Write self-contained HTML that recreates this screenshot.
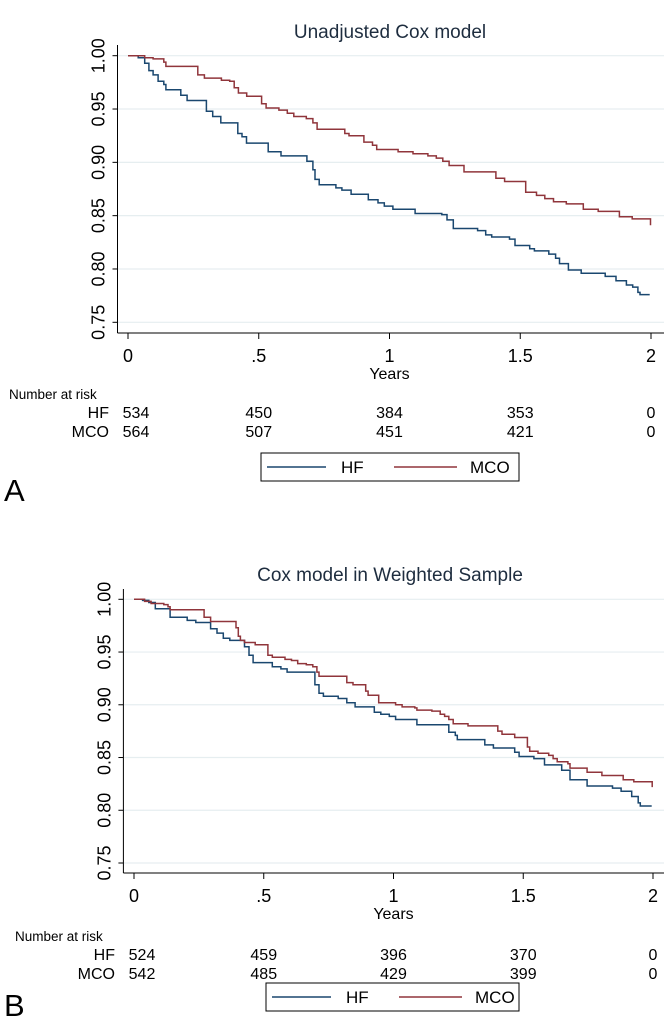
<!DOCTYPE html>
<html><head><meta charset="utf-8">
<style>
html,body{margin:0;padding:0;background:#fff;}
svg{display:block;font-family:"Liberation Sans",Arial,sans-serif;}
</style></head>
<body>
<svg id="fig" width="664" height="1022" viewBox="0 0 664 1022"></svg>
<script>
// ---- Data: panel A (Unadjusted Cox model) ----
const xTicks = [0, 0.5, 1, 1.5, 2];
const xTickLabels = ["0", ".5", "1", "1.5", "2"];
const yTicks = [0.75, 0.80, 0.85, 0.90, 0.95, 1.00];
const yTickLabels = ["0.75", "0.80", "0.85", "0.90", "0.95", "1.00"];
const groups = ["HF", "MCO"];

const aHfT = [0,0.039,0.064,0.080,0.096,0.115,0.137,0.145,0.202,0.226,0.300,0.324,0.355,0.420,0.436,0.453,0.536,0.585,0.684,0.707,0.715,0.731,0.795,0.818,0.853,0.919,0.956,0.980,1.013,1.098,1.200,1.220,1.244,1.337,1.368,1.391,1.459,1.480,1.536,1.554,1.609,1.635,1.650,1.684,1.733,1.825,1.866,1.906,1.930,1.950,1.958,1.995];
const aHfS = [1.000,0.998,0.993,0.986,0.982,0.976,0.973,0.968,0.963,0.958,0.948,0.943,0.937,0.927,0.924,0.918,0.910,0.906,0.901,0.893,0.884,0.879,0.876,0.874,0.870,0.865,0.862,0.859,0.856,0.852,0.851,0.846,0.838,0.836,0.832,0.830,0.828,0.822,0.819,0.817,0.814,0.810,0.805,0.799,0.796,0.793,0.789,0.785,0.783,0.778,0.776,0.776];
const aMcoT = [0,0.064,0.096,0.137,0.145,0.267,0.292,0.357,0.389,0.406,0.422,0.454,0.511,0.528,0.577,0.609,0.634,0.682,0.707,0.723,0.829,0.845,0.902,0.935,0.951,1.033,1.090,1.147,1.179,1.204,1.228,1.285,1.407,1.440,1.521,1.562,1.594,1.627,1.676,1.741,1.798,1.879,1.928,1.998];
const aMcoS = [1.000,0.998,0.997,0.994,0.990,0.982,0.979,0.977,0.976,0.970,0.965,0.962,0.955,0.951,0.949,0.946,0.943,0.941,0.937,0.931,0.927,0.925,0.919,0.916,0.912,0.910,0.908,0.906,0.904,0.901,0.897,0.891,0.885,0.882,0.872,0.869,0.866,0.863,0.861,0.856,0.854,0.849,0.847,0.841];
const aRiskHf = ["534","450","384","353","0"];
const aRiskMco = ["564","507","451","421","0"];

// ---- Data: panel B (Cox model in Weighted Sample) ----
const bHfT = [0,0.033,0.057,0.082,0.139,0.205,0.238,0.295,0.320,0.344,0.369,0.426,0.443,0.459,0.533,0.566,0.590,0.697,0.713,0.730,0.787,0.820,0.852,0.926,0.951,0.984,1.008,1.090,1.213,1.238,1.246,1.352,1.385,1.467,1.484,1.541,1.582,1.648,1.680,1.746,1.844,1.877,1.918,1.943,1.951,1.995];
const bHfS = [1.000,0.999,0.997,0.991,0.983,0.980,0.978,0.972,0.968,0.963,0.961,0.955,0.947,0.940,0.936,0.934,0.931,0.919,0.911,0.908,0.906,0.902,0.898,0.893,0.891,0.889,0.886,0.881,0.874,0.871,0.867,0.862,0.859,0.855,0.851,0.849,0.843,0.838,0.829,0.823,0.821,0.818,0.813,0.807,0.804,0.804];
const bMcoT = [0,0.041,0.066,0.115,0.131,0.139,0.270,0.295,0.393,0.402,0.410,0.426,0.467,0.516,0.533,0.582,0.607,0.631,0.664,0.689,0.705,0.713,0.820,0.844,0.893,0.902,0.943,1.008,1.033,1.082,1.090,1.148,1.180,1.197,1.213,1.230,1.287,1.402,1.418,1.467,1.516,1.525,1.557,1.598,1.615,1.631,1.672,1.680,1.746,1.803,1.885,1.926,1.997];
const bMcoS = [1.000,0.998,0.996,0.995,0.993,0.990,0.983,0.979,0.973,0.965,0.961,0.959,0.957,0.947,0.945,0.943,0.942,0.939,0.938,0.936,0.931,0.927,0.921,0.919,0.913,0.909,0.902,0.900,0.898,0.897,0.895,0.894,0.891,0.889,0.886,0.882,0.880,0.875,0.872,0.869,0.860,0.856,0.854,0.852,0.849,0.846,0.844,0.840,0.836,0.833,0.829,0.827,0.822];
const bRiskHf = ["524","459","396","370","0"];
const bRiskMco = ["542","485","429","399","0"];

const NS = "http://www.w3.org/2000/svg";
const svg = document.getElementById("fig");
const BLUE = "#1a476f", RED = "#90353b";
function mk(tag, attrs, parent, text){
  const e = document.createElementNS(NS, tag);
  for (const k in attrs) e.setAttribute(k, attrs[k]);
  if (text !== undefined) e.textContent = text;
  (parent || svg).appendChild(e);
  return e;
}
function stepPath(T, S, sx, sy){
  let d = "M" + sx(T[0]) + " " + sy(S[0]);
  for (let i = 1; i < T.length; i++){
    d += " H" + sx(T[i]).toFixed(1) + " V" + sy(S[i]).toFixed(1);
  }
  return d;
}

function panel(cfg){
  const g = mk("g", {});
  
  
  const sx = t => cfg.x0 + (t / 2) * (cfg.x2 - cfg.x0);
  const sy = v => cfg.y100 + (1 - v) / 0.25 * (cfg.y75 - cfg.y100);

  const title = mk("text", {x: 390, y: cfg.titleY, "text-anchor": "middle", "font-size": 19, fill: "#1e2d3f"}, g, cfg.title);
  
  

  for (let i = 0; i < yTicks.length; i++){
    const y = sy(yTicks[i]);
    const gl = mk("line", {x1: cfg.ax, x2: 664, y1: y, y2: y, stroke: "#e6eef0", "stroke-width": 1.2}, g);
    
    
    mk("line", {x1: cfg.ax - 5, x2: cfg.ax, y1: y, y2: y, stroke: "#000", "stroke-width": 1}, g);
    const tl = mk("text", {x: 0, y: 0, "text-anchor": "middle", "font-size": 18, fill: "#000",
      transform: "translate(" + (cfg.ax - 19) + "," + y + ") rotate(-90)", "dominant-baseline": "central"}, g, yTickLabels[i]);
    
    
  }
  const ya = mk("line", {x1: cfg.ax, x2: cfg.ax, y1: cfg.axTop, y2: cfg.axY, stroke: "#000", "stroke-width": 1}, g);
  
  
  const xa = mk("line", {x1: cfg.ax, x2: 664, y1: cfg.axY, y2: cfg.axY, stroke: "#000", "stroke-width": 1}, g);
  
  
  for (let i = 0; i < xTicks.length; i++){
    const x = sx(xTicks[i]);
    mk("line", {x1: x, x2: x, y1: cfg.axY, y2: cfg.axY + 6, stroke: "#000", "stroke-width": 1}, g);
    const xl = mk("text", {x: x, y: cfg.axY + 29, "text-anchor": "middle", "font-size": 18, fill: "#000"}, g, xTickLabels[i]);
    
    
  }
  const xt = mk("text", {x: sx(1), y: cfg.axY + 46, "text-anchor": "middle", "font-size": 16, fill: "#000"}, g, "Years");
  
  

  const p1 = mk("path", {d: stepPath(cfg.hfT, cfg.hfS, sx, sy), fill: "none", stroke: BLUE, "stroke-width": 1.5}, g);
  
  
  const p2 = mk("path", {d: stepPath(cfg.mcoT, cfg.mcoS, sx, sy), fill: "none", stroke: RED, "stroke-width": 1.5}, g);
  
  

  const nr = mk("text", {x: cfg.nrX, y: cfg.nrY, "font-size": 13.5, fill: "#000"}, g, "Number at risk");
  
  
  const rows = [cfg.riskHf, cfg.riskMco];
  for (let r = 0; r < 2; r++){
    const yy = cfg.nrY + 19 + r * 19;
    const gl = mk("text", {x: sx(0) - 19, y: yy, "text-anchor": "end", "font-size": 16, fill: "#000"}, g, groups[r]);
    
    
    for (let i = 0; i < xTicks.length; i++){
      const rv = mk("text", {x: sx(xTicks[i]) + (i === 0 ? 8 : 0), y: yy, "text-anchor": "middle", "font-size": 16, fill: "#000"}, g, rows[r][i]);
      
      
    }
  }
  const lg = mk("g", {}, g);
  
  
  mk("rect", {x: cfg.lgX, y: cfg.lgY, width: 519 - cfg.lgX, height: 28, fill: "#fff", stroke: "#000", "stroke-width": 1}, lg);
  const cy = cfg.lgY + 14;
  const l1 = mk("line", {x1: cfg.lgX + 6, x2: cfg.lgX + 65, y1: cy, y2: cy, stroke: BLUE, "stroke-width": 1.5}, lg);
  
  
  const t1 = mk("text", {x: cfg.lgX + 80, y: cy + 6, "font-size": 17, fill: "#000"}, lg, "HF");
  
  
  const l2 = mk("line", {x1: cfg.lgX + 133, x2: cfg.lgX + 196, y1: cy, y2: cy, stroke: RED, "stroke-width": 1.5}, lg);
  
  
  const t2 = mk("text", {x: cfg.lgX + 209, y: cy + 6, "font-size": 17, fill: "#000"}, lg, "MCO");
  
  

  const pl = mk("text", {x: 4, y: cfg.panelY, "font-size": 31, fill: "#000"}, g, cfg.panel);
  
  
}

panel({name: "panel-a", title: "Unadjusted Cox model", titleY: 38, ax: 117.5, axTop: 45, axY: 333,
  x0: 128, x2: 651, y100: 55.7, y75: 322.3,
  hfT: aHfT, hfS: aHfS, mcoT: aMcoT, mcoS: aMcoS, riskHf: aRiskHf, riskMco: aRiskMco,
  nrX: 9, nrY: 399, lgX: 261, lgY: 453, panel: "A", panelY: 501});
panel({name: "panel-b", title: "Cox model in Weighted Sample", titleY: 581, ax: 123.4, axTop: 589, axY: 873,
  x0: 134, x2: 653, y100: 599.3, y75: 863,
  hfT: bHfT, hfS: bHfS, mcoT: bMcoT, mcoS: bMcoS, riskHf: bRiskHf, riskMco: bRiskMco,
  nrX: 15, nrY: 941, lgX: 266, lgY: 983, panel: "B", panelY: 1016});
</script>
</body></html>
